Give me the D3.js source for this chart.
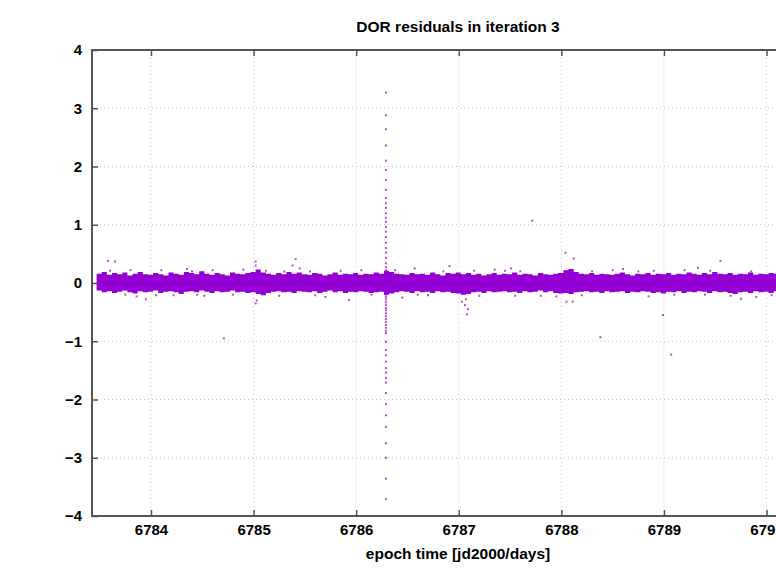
<!DOCTYPE html>
<html lang="en">
<head>
<meta charset="UTF-8">
<title>DOR residuals in iteration 3</title>
<script src="https://d3js.org/d3.v7.min.js"></script>
<style>
  body { margin: 0; background: #fff; }
  svg { display: block; font-family: "Liberation Sans", Arial, sans-serif; }
  .tick text { font-weight: bold; font-size: 15px; fill: #000; }
</style>
</head>
<body>
<div id="chart"></div>
<script>
// dense residual band, read as upper/lower envelope every 0.05 day
const bandEpochs = [6783.47,6783.52,6783.57,6783.62,6783.67,6783.72,6783.77,6783.82,6783.87,6783.92,
  6783.97,6784.02,6784.07,6784.12,6784.17,6784.22,6784.27,6784.32,6784.37,6784.42,
  6784.47,6784.52,6784.57,6784.62,6784.67,6784.72,6784.77,6784.82,6784.87,6784.92,
  6784.97,6785.02,6785.07,6785.12,6785.17,6785.22,6785.27,6785.32,6785.37,6785.42,
  6785.47,6785.52,6785.57,6785.62,6785.67,6785.72,6785.77,6785.82,6785.87,6785.92,
  6785.97,6786.02,6786.07,6786.12,6786.17,6786.22,6786.27,6786.32,6786.37,6786.42,
  6786.47,6786.52,6786.57,6786.62,6786.67,6786.72,6786.77,6786.82,6786.87,6786.92,
  6786.97,6787.02,6787.07,6787.12,6787.17,6787.22,6787.27,6787.32,6787.37,6787.42,
  6787.47,6787.52,6787.57,6787.62,6787.67,6787.72,6787.77,6787.82,6787.87,6787.92,
  6787.97,6788.02,6788.07,6788.12,6788.17,6788.22,6788.27,6788.32,6788.37,6788.42,
  6788.47,6788.52,6788.57,6788.62,6788.67,6788.72,6788.77,6788.82,6788.87,6788.92,
  6788.97,6789.02,6789.07,6789.12,6789.17,6789.22,6789.27,6789.32,6789.37,6789.42,
  6789.47,6789.52,6789.57,6789.62,6789.67,6789.72,6789.77,6789.82,6789.87,6789.92,
  6789.97,6790.02,6790.07,6790.12,6790.17,6790.22,6790.27,6790.32,6790.37,6790.42,
  6790.47,6790.52];
const bandHi = [0.16,0.19,0.14,0.17,0.15,0.18,0.13,0.16,0.19,0.15,
  0.14,0.17,0.15,0.13,0.18,0.16,0.14,0.19,0.17,0.15,
  0.20,0.16,0.14,0.17,0.15,0.13,0.18,0.16,0.15,0.17,
  0.19,0.23,0.18,0.16,0.14,0.17,0.15,0.19,0.16,0.18,
  0.15,0.14,0.17,0.16,0.13,0.15,0.18,0.14,0.16,0.15,
  0.17,0.14,0.16,0.15,0.18,0.16,0.21,0.19,0.16,0.15,
  0.14,0.17,0.15,0.16,0.14,0.18,0.15,0.13,0.17,0.16,
  0.18,0.15,0.17,0.14,0.16,0.13,0.15,0.17,0.14,0.16,
  0.15,0.18,0.14,0.16,0.15,0.13,0.17,0.15,0.14,0.16,
  0.17,0.22,0.24,0.19,0.16,0.15,0.17,0.14,0.16,0.15,
  0.14,0.16,0.18,0.15,0.13,0.16,0.15,0.17,0.14,0.16,
  0.15,0.17,0.14,0.16,0.15,0.18,0.16,0.14,0.17,0.15,
  0.19,0.16,0.15,0.17,0.14,0.16,0.15,0.18,0.14,0.16,
  0.15,0.17,0.16,0.14,0.18,0.15,0.17,0.16,0.14,0.16,
  0.17,0.15];
const bandLo = [-0.13,-0.16,-0.14,-0.17,-0.15,-0.13,-0.16,-0.18,-0.14,-0.16,
  -0.15,-0.13,-0.17,-0.15,-0.14,-0.16,-0.19,-0.15,-0.14,-0.16,
  -0.13,-0.15,-0.17,-0.14,-0.16,-0.15,-0.13,-0.16,-0.15,-0.17,
  -0.16,-0.19,-0.21,-0.17,-0.15,-0.14,-0.16,-0.15,-0.17,-0.14,
  -0.15,-0.16,-0.14,-0.17,-0.15,-0.13,-0.16,-0.14,-0.17,-0.15,
  -0.16,-0.14,-0.15,-0.17,-0.16,-0.15,-0.20,-0.18,-0.16,-0.14,
  -0.15,-0.17,-0.14,-0.16,-0.15,-0.17,-0.14,-0.16,-0.15,-0.17,
  -0.18,-0.20,-0.19,-0.16,-0.15,-0.17,-0.14,-0.16,-0.15,-0.14,
  -0.16,-0.15,-0.17,-0.14,-0.16,-0.15,-0.13,-0.16,-0.14,-0.17,
  -0.18,-0.17,-0.19,-0.16,-0.15,-0.14,-0.16,-0.15,-0.17,-0.14,
  -0.16,-0.15,-0.14,-0.17,-0.15,-0.16,-0.14,-0.15,-0.17,-0.16,
  -0.18,-0.15,-0.16,-0.14,-0.17,-0.15,-0.16,-0.14,-0.15,-0.17,
  -0.14,-0.16,-0.15,-0.17,-0.19,-0.16,-0.15,-0.17,-0.14,-0.16,
  -0.15,-0.17,-0.14,-0.16,-0.15,-0.17,-0.16,-0.14,-0.15,-0.17,
  -0.15,-0.16];

// vertical run of residuals at the 6786.29 pass
const spikeEpoch = 6786.29;
const spikeValues = [3.27,2.88,2.64,2.36,2.10,1.94,1.77,1.60,1.46,1.37,1.29,1.20,1.12,1.05,0.96,0.88,
  0.79,0.69,0.60,0.52,0.43,0.34,0.27,0.22,
  -0.2,-0.24,-0.28,-0.33,-0.38,-0.43,-0.47,-0.52,-0.57,-0.62,-0.67,-0.72,-0.77,-0.82,-0.86,
  -1.01,-1.15,-1.24,-1.35,-1.46,-1.54,-1.63,-1.71,-1.89,-2.08,-2.27,-2.47,-2.75,-3.0,-3.36,-3.71];

// scattered outliers and fringe points: epochs and residuals
const outlierEpochs = [6783.58,6783.65,6783.86,6783.95,6784.71,6785.02,6785.02,6785.03,6785.02,6785.41,6785.38,
  6785.45,6785.93,6786.57,6786.91,6787.03,6787.06,6787.07,6787.08,6787.09,6787.51,6787.716,
  6787.95,6788.04,6788.12,6788.05,6788.11,6788.38,6788.99,6789.07,6789.33,6789.55,6789.75,
  6784.35,6784.52,6784.9,6785.7,6786.05,6786.45,6787.35,6787.8,6788.6,6788.85,6789.2,6789.9,6790.2,
  6783.6,6783.75,6784.1,6784.22,6784.4,6784.6,6784.8,6785.12,6785.25,6785.55,6785.85,6786.15,
  6786.38,6786.7,6786.85,6787.2,6787.45,6787.6,6788.2,6788.5,6788.75,6789.1,6789.45,6789.65,
  6789.85,6790.05,6790.35,6783.8,6784.05,6784.45,6785.3,6785.6,6786.6,6787.15,6787.55,6788.3,6788.9,6789.4,6790.1];
const outlierValues = [0.38,0.37,-0.23,-0.28,-0.95,0.37,0.3,-0.3,-0.35,0.41,0.3,
  0.25,-0.29,0.25,0.29,-0.32,-0.38,-0.28,-0.54,-0.45,0.25,1.07,
  -0.23,0.52,0.42,-0.32,-0.32,-0.93,-0.55,-1.23,0.26,0.38,-0.27,
  0.24,-0.22,0.23,-0.24,0.22,-0.25,0.23,-0.22,0.24,-0.23,0.22,-0.24,0.23,
  0.21,-0.2,0.22,-0.21,0.2,0.22,-0.2,0.21,-0.22,0.2,0.21,-0.2,
  0.22,-0.21,0.2,-0.22,0.21,0.2,-0.21,0.22,0.2,-0.2,0.21,-0.22,
  0.2,-0.21,0.22,0.22,-0.21,-0.2,0.2,-0.21,-0.2,0.21,-0.22,0.2,0.21,-0.2,-0.22];

const xTicks = [6784,6785,6786,6787,6788,6789,6790];
const yTicks = [-4,-3,-2,-1,0,1,2,3,4];

const W = 776, H = 574;
const mLeft = 92, mTop = 50, mBottom = 516, mRight = 824;
const color = "#9400d3";

const svg = d3.select("#chart").append("svg")
  .attr("width", W).attr("height", H);

const x = d3.scaleLinear().domain([6783.425, 6790.56]).range([mLeft, mRight]);
const y = d3.scaleLinear().domain([-4, 4]).range([mBottom, mTop]);

// grid
svg.append("g").selectAll("line")
  .data(xTicks).join("line")
  .attr("x1", d => x(d)).attr("x2", d => x(d))
  .attr("y1", mTop).attr("y2", mBottom)
  .attr("stroke", "#c4c4c4").attr("stroke-width", 1).attr("stroke-dasharray", "1,3");
svg.append("g").selectAll("line")
  .data(yTicks.slice(1, -1)).join("line")
  .attr("x1", mLeft).attr("x2", mRight)
  .attr("y1", d => y(d)).attr("y2", d => y(d))
  .attr("stroke", "#c4c4c4").attr("stroke-width", 1).attr("stroke-dasharray", "1,3");

// band
const band = bandEpochs.map((e, i) => ({ e, hi: bandHi[i], lo: bandLo[i] }));
svg.append("path")
  .datum(band)
  .attr("fill", color)
  .attr("d", d3.area().curve(d3.curveStepAfter)
    .x(d => x(d.e)).y0(d => y(d.lo)).y1(d => y(d.hi)));

// points
const pts = spikeValues.map(v => [spikeEpoch, v])
  .concat(outlierEpochs.map((e, i) => [e, outlierValues[i]]));
svg.append("g").selectAll("rect")
  .data(pts).join("rect")
  .attr("x", d => x(d[0]) - 1).attr("y", d => y(d[1]) - 1)
  .attr("width", 2).attr("height", 2)
  .attr("fill", color).attr("opacity", 0.7);

// axes
const axL = svg.append("g").attr("transform", `translate(${mLeft},0)`)
  .call(d3.axisLeft(y).tickValues(yTicks).tickSize(-6).tickPadding(10).tickFormat(d3.format("d")));
const axB = svg.append("g").attr("transform", `translate(0,${mBottom})`)
  .call(d3.axisBottom(x).tickValues(xTicks).tickSize(-6).tickPadding(8).tickFormat(d3.format("d")));
const axT = svg.append("g").attr("transform", `translate(0,${mTop})`)
  .call(d3.axisTop(x).tickValues(xTicks).tickSize(-6).tickFormat(""));
[axL, axB, axT].forEach(a => {
  a.select(".domain").remove();
  a.selectAll(".tick line").attr("stroke", "#555").attr("stroke-width", 1.5);
});
// frame
svg.append("rect")
  .attr("x", mLeft).attr("y", mTop)
  .attr("width", mRight - mLeft).attr("height", mBottom - mTop)
  .attr("fill", "none").attr("stroke", "#555").attr("stroke-width", 2);

svg.append("text")
  .attr("x", (mLeft + mRight) / 2).attr("y", 32)
  .attr("text-anchor", "middle")
  .attr("font-weight", "bold").attr("font-size", 15.5)
  .text("DOR residuals in iteration 3");

svg.append("text")
  .attr("x", (mLeft + mRight) / 2).attr("y", 559)
  .attr("text-anchor", "middle")
  .attr("font-weight", "bold").attr("font-size", 15.5)
  .text("epoch time [jd2000/days]");
</script>
</body>
</html>
